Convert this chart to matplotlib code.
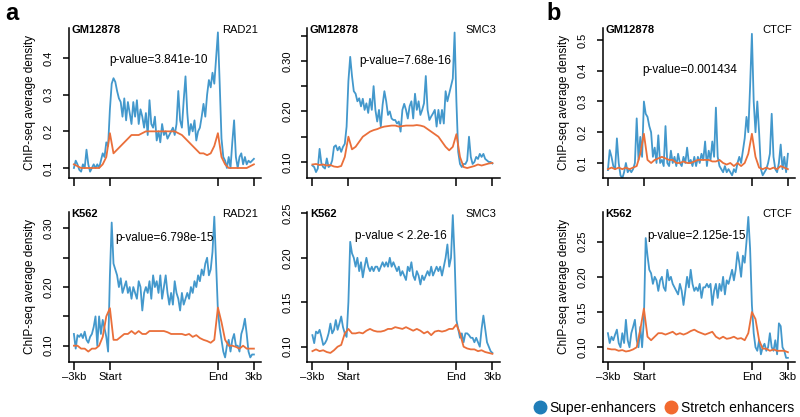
import numpy as np
import matplotlib
matplotlib.use('Agg')
import matplotlib.pyplot as plt
from matplotlib.lines import Line2D

plt.rcParams['font.family'] = ['Liberation Sans', 'DejaVu Sans']

# posisjoner langs enhanceren (0 = -3kb, 20 = start, 80 = slutt, 100 = 3kb)
x_super = np.arange(0, 101, 1)
x_stretch = np.arange(0, 101, 2)

xtick_pos = [0, 20, 80, 100]
xtick_labels = ['\u20133kb', 'Start', 'End', '3kb']

cell_lines = ['GM12878', 'GM12878', 'GM12878', 'K562', 'K562', 'K562']
factors = ['RAD21', 'SMC3', 'CTCF', 'RAD21', 'SMC3', 'CTCF']
p_values = ['p-value=3.841e-10', 'p-value=7.68e-16', 'p-value=0.001434',
            'p-value=6.798e-15', 'p-value < 2.2e-16', 'p-value=2.125e-15']

# GM12878 RAD21
gm_rad21_super = [
    0.10, 0.12, 0.11, 0.095, 0.09, 0.11, 0.10, 0.15, 0.11, 0.09,
    0.10, 0.11, 0.10, 0.11, 0.10, 0.12, 0.14, 0.13, 0.17, 0.16,
    0.26, 0.33, 0.345, 0.335, 0.31, 0.29, 0.28, 0.24, 0.29, 0.23,
    0.28, 0.25, 0.22, 0.28, 0.24, 0.285, 0.22, 0.26, 0.24, 0.21,
    0.25, 0.19, 0.285, 0.22, 0.21, 0.24, 0.175, 0.20, 0.17, 0.22,
    0.19, 0.20, 0.18, 0.19, 0.20, 0.21, 0.19, 0.22, 0.31, 0.23,
    0.21, 0.285, 0.35, 0.25, 0.19, 0.22, 0.20, 0.23, 0.175, 0.20,
    0.21, 0.24, 0.275, 0.24, 0.30, 0.34, 0.32, 0.36, 0.33, 0.40,
    0.47, 0.33, 0.18, 0.13, 0.12, 0.10, 0.13, 0.10, 0.17, 0.23,
    0.13, 0.10, 0.13, 0.14, 0.11, 0.13, 0.11, 0.12, 0.115, 0.12,
    0.125]
gm_rad21_stretch = [
    0.11, 0.105, 0.10, 0.10, 0.10, 0.10, 0.10, 0.10, 0.11, 0.13,
    0.195, 0.14, 0.15, 0.16, 0.17, 0.18, 0.19, 0.19, 0.19, 0.195,
    0.20, 0.20, 0.20, 0.20, 0.20, 0.20, 0.20, 0.20, 0.20, 0.195,
    0.19, 0.18, 0.17, 0.16, 0.15, 0.14, 0.14, 0.135, 0.14, 0.16,
    0.195, 0.13, 0.11, 0.10, 0.10, 0.10, 0.10, 0.10, 0.10, 0.105,
    0.11]

# GM12878 SMC3
gm_smc3_super = [
    0.093, 0.09, 0.08, 0.087, 0.126, 0.097, 0.09, 0.087, 0.107, 0.09,
    0.093, 0.103, 0.13, 0.133, 0.123, 0.13, 0.12, 0.13, 0.136, 0.17,
    0.26, 0.308, 0.27, 0.24, 0.235, 0.22, 0.226, 0.21, 0.225, 0.203,
    0.216, 0.197, 0.225, 0.203, 0.25, 0.203, 0.18, 0.203, 0.17, 0.213,
    0.24, 0.22, 0.193, 0.20, 0.186, 0.183, 0.183, 0.176, 0.18, 0.16,
    0.203, 0.215, 0.203, 0.186, 0.21, 0.22, 0.186, 0.235, 0.203, 0.22,
    0.193, 0.203, 0.216, 0.27, 0.203, 0.183, 0.19, 0.196, 0.203, 0.17,
    0.203, 0.176, 0.203, 0.176, 0.24, 0.22, 0.235, 0.25, 0.265, 0.356,
    0.22, 0.12, 0.096, 0.09, 0.096, 0.096, 0.103, 0.15, 0.11, 0.096,
    0.10, 0.11, 0.106, 0.116, 0.11, 0.116, 0.106, 0.103, 0.10, 0.10,
    0.097]
gm_smc3_stretch = [
    0.095, 0.096, 0.094, 0.095, 0.093, 0.094, 0.091, 0.09, 0.092, 0.11,
    0.15, 0.125, 0.13, 0.14, 0.15, 0.155, 0.16, 0.163, 0.165, 0.168,
    0.17, 0.171, 0.172, 0.172, 0.17, 0.171, 0.172, 0.172, 0.172, 0.173,
    0.172, 0.17, 0.165, 0.16, 0.155, 0.15, 0.14, 0.13, 0.123, 0.13,
    0.155, 0.11, 0.09, 0.088, 0.09, 0.092, 0.095, 0.093, 0.095, 0.097,
    0.098]

# GM12878 CTCF
gm_ctcf_super = [
    0.077, 0.142, 0.12, 0.09, 0.08, 0.18, 0.10, 0.06, 0.05, 0.07,
    0.10, 0.07, 0.08, 0.07, 0.08, 0.10, 0.245, 0.11, 0.185, 0.12,
    0.30, 0.26, 0.25, 0.22, 0.20, 0.12, 0.15, 0.10, 0.19, 0.10,
    0.11, 0.09, 0.22, 0.10, 0.09, 0.14, 0.10, 0.12, 0.09, 0.13,
    0.10, 0.09, 0.12, 0.10, 0.15, 0.10, 0.11, 0.09, 0.12, 0.09,
    0.12, 0.10, 0.13, 0.11, 0.17, 0.09, 0.14, 0.11, 0.17, 0.12,
    0.28, 0.12, 0.09, 0.08, 0.07, 0.09, 0.07, 0.08, 0.07, 0.06,
    0.08, 0.07, 0.10, 0.12, 0.10, 0.14, 0.18, 0.25, 0.20, 0.35,
    0.52, 0.30, 0.20, 0.30, 0.20, 0.08, 0.06, 0.07, 0.08, 0.10,
    0.13, 0.26, 0.12, 0.08, 0.07, 0.10, 0.16, 0.08, 0.12, 0.07,
    0.13]
gm_ctcf_stretch = [
    0.08, 0.085, 0.08, 0.085, 0.08, 0.085, 0.08, 0.085, 0.09, 0.13,
    0.195, 0.11, 0.10, 0.11, 0.115, 0.12, 0.115, 0.11, 0.11, 0.10,
    0.10, 0.105, 0.10, 0.10, 0.105, 0.11, 0.11, 0.11, 0.11, 0.105,
    0.105, 0.11, 0.10, 0.095, 0.10, 0.09, 0.10, 0.09, 0.10, 0.13,
    0.195, 0.12, 0.085, 0.08, 0.085, 0.08, 0.085, 0.08, 0.09, 0.085,
    0.08]

# K562 RAD21
k562_rad21_super = [
    0.12, 0.095, 0.118, 0.115, 0.12, 0.113, 0.124, 0.11, 0.105, 0.115,
    0.12, 0.132, 0.15, 0.10, 0.15, 0.12, 0.144, 0.13, 0.115, 0.09,
    0.22, 0.31, 0.24, 0.23, 0.22, 0.20, 0.215, 0.19, 0.20, 0.21,
    0.19, 0.20, 0.18, 0.20, 0.19, 0.18, 0.21, 0.20, 0.16, 0.19,
    0.20, 0.19, 0.21, 0.18, 0.22, 0.20, 0.21, 0.19, 0.22, 0.18,
    0.20, 0.22, 0.19, 0.17, 0.19, 0.17, 0.21, 0.19, 0.18, 0.16,
    0.19, 0.17, 0.18, 0.19, 0.18, 0.20, 0.19, 0.21, 0.20, 0.22,
    0.21, 0.23, 0.22, 0.24, 0.25, 0.22, 0.23, 0.26, 0.32, 0.24,
    0.16, 0.13, 0.11, 0.09, 0.08, 0.10, 0.11, 0.09, 0.11, 0.12,
    0.10, 0.10, 0.09, 0.12, 0.13, 0.146, 0.12, 0.09, 0.08, 0.085,
    0.085]
k562_rad21_stretch = [
    0.10, 0.10, 0.095, 0.095, 0.09, 0.095, 0.095, 0.10, 0.115, 0.15,
    0.164, 0.11, 0.11, 0.115, 0.12, 0.12, 0.125, 0.12, 0.125, 0.12,
    0.12, 0.125, 0.125, 0.125, 0.125, 0.125, 0.123, 0.12, 0.12, 0.12,
    0.12, 0.118, 0.12, 0.115, 0.118, 0.113, 0.11, 0.108, 0.105, 0.11,
    0.165, 0.14, 0.11, 0.10, 0.10, 0.098, 0.095, 0.10, 0.095, 0.095,
    0.095]

# K562 SMC3
k562_smc3_super = [
    0.113, 0.104, 0.117, 0.115, 0.119, 0.111, 0.102, 0.104, 0.108, 0.115,
    0.126, 0.115, 0.119, 0.13, 0.119, 0.126, 0.134, 0.122, 0.115, 0.111,
    0.15, 0.218, 0.205, 0.20, 0.19, 0.20, 0.185, 0.195, 0.178, 0.19,
    0.20, 0.19, 0.185, 0.19, 0.185, 0.19, 0.19, 0.185, 0.19, 0.195,
    0.19, 0.195, 0.19, 0.20, 0.19, 0.195, 0.19, 0.185, 0.19, 0.18,
    0.185, 0.18, 0.175, 0.19, 0.185, 0.195, 0.18, 0.175, 0.185, 0.18,
    0.17, 0.18, 0.175, 0.18, 0.185, 0.18, 0.19, 0.18, 0.185, 0.19,
    0.185, 0.19, 0.18, 0.19, 0.20, 0.215, 0.19, 0.20, 0.248, 0.20,
    0.13, 0.12, 0.11, 0.115, 0.105, 0.115, 0.115, 0.113, 0.11, 0.11,
    0.105, 0.11, 0.105, 0.10, 0.12, 0.135, 0.12, 0.105, 0.10, 0.095,
    0.093]
k562_smc3_stretch = [
    0.095, 0.097, 0.095, 0.096, 0.094, 0.093, 0.096, 0.10, 0.102, 0.115,
    0.12, 0.115, 0.115, 0.116, 0.115, 0.118, 0.12, 0.118, 0.117, 0.117,
    0.118, 0.12, 0.12, 0.122, 0.121, 0.12, 0.122, 0.12, 0.118, 0.12,
    0.118, 0.115, 0.117, 0.113, 0.117, 0.118, 0.117, 0.118, 0.12, 0.12,
    0.125, 0.115, 0.10, 0.098, 0.097, 0.097, 0.095, 0.096, 0.094, 0.093,
    0.092]

# K562 CTCF
k562_ctcf_super = [
    0.12, 0.106, 0.115, 0.11, 0.118, 0.125, 0.106, 0.10, 0.12, 0.106,
    0.139, 0.11, 0.10, 0.12, 0.129, 0.139, 0.11, 0.10, 0.129, 0.10,
    0.14, 0.255, 0.23, 0.21, 0.205, 0.19, 0.20, 0.195, 0.18, 0.195,
    0.20, 0.185, 0.18, 0.21, 0.195, 0.20, 0.19, 0.185, 0.18, 0.175,
    0.19, 0.18, 0.16, 0.18, 0.20, 0.185, 0.21, 0.19, 0.18, 0.185,
    0.18, 0.19, 0.17, 0.185, 0.185, 0.19, 0.185, 0.19, 0.16, 0.18,
    0.19, 0.17, 0.19, 0.18, 0.20, 0.175, 0.195, 0.19, 0.20, 0.21,
    0.195, 0.21, 0.235, 0.22, 0.20, 0.23, 0.22, 0.25, 0.285, 0.24,
    0.16, 0.12, 0.10, 0.095, 0.11, 0.09, 0.10, 0.105, 0.095, 0.10,
    0.12, 0.10, 0.095, 0.11, 0.09, 0.134, 0.13, 0.10, 0.095, 0.085,
    0.085]
k562_ctcf_stretch = [
    0.098, 0.097, 0.097, 0.095, 0.096, 0.094, 0.095, 0.097, 0.10, 0.125,
    0.155, 0.115, 0.11, 0.115, 0.12, 0.12, 0.118, 0.12, 0.122, 0.118,
    0.12, 0.118, 0.12, 0.123, 0.125, 0.122, 0.12, 0.118, 0.12, 0.122,
    0.115, 0.112, 0.115, 0.112, 0.113, 0.115, 0.112, 0.113, 0.11, 0.12,
    0.15, 0.14, 0.11, 0.098, 0.098, 0.095, 0.097, 0.095, 0.095, 0.095,
    0.093]

super_series = [gm_rad21_super, gm_smc3_super, gm_ctcf_super,
                k562_rad21_super, k562_smc3_super, k562_ctcf_super]
stretch_series = [gm_rad21_stretch, gm_smc3_stretch, gm_ctcf_stretch,
                  k562_rad21_stretch, k562_smc3_stretch, k562_ctcf_stretch]

yticks = [[0.1, 0.2, 0.3, 0.4],
          [0.10, 0.15, 0.20, 0.25, 0.30, 0.35],
          [0.1, 0.2, 0.3, 0.4, 0.5],
          [0.10, 0.15, 0.20, 0.25, 0.30],
          [0.10, 0.15, 0.20, 0.25],
          [0.10, 0.15, 0.20, 0.25]]
ytick_labels = [['0.1', '0.2', '0.3', '0.4'],
                ['0.10', '', '0.20', '', '0.30', ''],
                ['0.1', '0.2', '0.3', '0.4', '0.5'],
                ['0.10', '', '0.20', '', '0.30'],
                ['0.10', '0.15', '0.20', '0.25'],
                ['0.10', '0.15', '0.20', '0.25']]
ylims = [(0.0727, 0.482), (0.0683, 0.365), (0.0512, 0.539),
         (0.0722, 0.328), (0.0828, 0.2515), (0.0791, 0.292)]

blue = '#4398cc'
orange = '#ea6f3a'

W, H = 800, 417
fig = plt.figure(figsize=(8, 4.17), dpi=100)

col_left = [68.5, 307, 602.5]
row_top = [28, 212]
ax_w = 192.6
ax_h = 150
pv_pos = [(0.47, 0.79), (0.51, 0.78), (0.455, 0.72),
          (0.50, 0.83), (0.49, 0.84), (0.49, 0.84)]

for i in range(6):
    r, c = divmod(i, 3)
    left = col_left[c]
    top = row_top[r]
    ax = fig.add_axes([left / W, 1 - (top + ax_h) / H, ax_w / W, ax_h / H])
    ax.plot(x_super, super_series[i], color=blue, lw=1.3)
    ax.plot(x_stretch, stretch_series[i], color=orange, lw=1.3)
    ax.set_xlim(-3, 104)
    ax.set_ylim(ylims[i])
    ax.spines['top'].set_visible(False)
    ax.spines['right'].set_visible(False)
    ax.spines['left'].set_linewidth(1.1)
    ax.spines['bottom'].set_linewidth(1.1)
    ax.set_xticks(xtick_pos)
    if r == 1:
        ax.set_xticklabels(xtick_labels)
    else:
        ax.set_xticklabels([])
    ax.set_yticks(yticks[i])
    ax.set_yticklabels(ytick_labels[i])
    for lab in ax.get_yticklabels():
        lab.set_rotation(90)
        lab.set_va('center')
    ax.tick_params(axis='x', length=5.5, width=1.1, labelsize=8, pad=1.5)
    ax.tick_params(axis='y', length=4.5, width=1.1, labelsize=8, pad=6)
    if c != 1:
        ax.set_ylabel('ChIP-seq average density', fontsize=8.5, labelpad=6)
    ax.text(0.015, 0.985, cell_lines[i], transform=ax.transAxes,
            fontsize=8, fontweight='bold', ha='left', va='center')
    ax.text(0.985, 0.985, factors[i], transform=ax.transAxes,
            fontsize=8, ha='right', va='center')
    ax.text(pv_pos[i][0], pv_pos[i][1], p_values[i], transform=ax.transAxes,
            fontsize=8.5, ha='center', va='center')

fig.text(12 / W, 1 - 14 / H, 'a', fontsize=17, fontweight='bold',
         ha='center', va='center')
fig.text(554 / W, 1 - 14 / H, 'b', fontsize=17, fontweight='bold',
         ha='center', va='center')

handles = [Line2D([], [], marker='o', linestyle='none', markersize=9,
                  color='#1f7db8', label='Super-enhancers'),
           Line2D([], [], marker='o', linestyle='none', markersize=9,
                  color='#f2692e', label='Stretch enhancers')]
fig.legend(handles=handles, loc='lower right', bbox_to_anchor=(1.0, -0.008),
           ncol=2, frameon=False, fontsize=10, handletextpad=0.3,
           columnspacing=0.7, handlelength=0.8, borderaxespad=0.0)

fig.savefig('out.png', dpi=100)
